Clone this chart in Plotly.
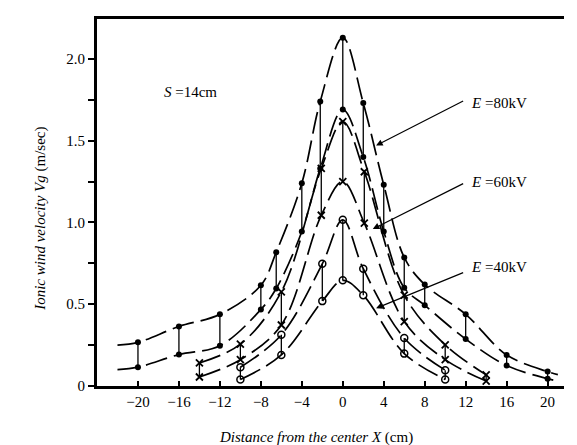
import plotly.graph_objects as go

# ---------------- data ----------------
# E = 80 kV (filled dots): upper / lower measured values
dot_x = [-20, -16, -12, -8, -6.5, -4, -2.2, 0, 2, 4, 6, 8, 12, 16, 20]
dot_hi = [0.267, 0.364, 0.438, 0.616, 0.818, 1.24, 1.74, 2.13, 1.73, 1.23, 0.786, 0.62, 0.438, 0.19, 0.088]
dot_lo = [0.115, 0.192, 0.246, 0.468, 0.596, 0.945, 1.33, 1.69, 1.40, 0.945, 0.60, 0.494, 0.287, 0.125, 0.045]

# E = 60 kV (crosses)
cross_x = [-14, -10, -6, -2.1, 0, 2.1, 6, 10, 14]
cross_hi = [0.141, 0.256, 0.576, 1.33, 1.616, 1.31, 0.555, 0.252, 0.068]
cross_lo = [0.055, 0.161, 0.373, 1.044, 1.25, 0.996, 0.394, 0.161, 0.03]

# E = 40 kV (open circles)
circ_x = [-10, -6, -2, 0, 2, 6, 10]
circ_hi = [0.115, 0.313, 0.747, 1.016, 0.717, 0.293, 0.097]
circ_lo = [0.040, 0.19, 0.519, 0.646, 0.555, 0.198, 0.04]

# fitted curve tails beyond the outermost measurements (x, upper, lower)
dot_tail_left = (-22, 0.25, 0.10)
dot_tail_right = (21, 0.07, 0.03)

x_ticks = [-20, -16, -12, -8, -4, 0, 4, 8, 12, 16, 20]
y_ticks = [0, 0.5, 1.0, 1.5, 2.0]
y_ticktext = ["0", "0.5", "1.0", "1.5", "2.0"]

labels = ["<i>E</i> =80kV", "<i>E</i> =60kV", "<i>E</i> =40kV"]
label_pos = [(12.3, 1.73), (12.3, 1.25), (12.3, 0.73)]
arrow_tail = [(11.9, 1.747), (11.9, 1.242), (11.9, 0.697)]
arrow_head = [(3.25, 1.47), (2.93, 0.96), (3.25, 0.475)]

# ---------------- figure ----------------
SERIF = "Liberation Serif, Times New Roman, serif"
fig = go.Figure()

DASH = "22px,7px"
curve_style = dict(color="black", width=1.7, dash=DASH, shape="spline", smoothing=1.0)

def add_curve(xs, ys):
    fig.add_trace(go.Scatter(x=xs, y=ys, mode="lines", line=curve_style,
                             hoverinfo="skip", showlegend=False))

# dot curves with tails
add_curve([dot_tail_left[0]] + dot_x + [dot_tail_right[0]],
          [dot_tail_left[1]] + dot_hi + [dot_tail_right[1]])
add_curve([dot_tail_left[0]] + dot_x + [dot_tail_right[0]],
          [dot_tail_left[2]] + dot_lo + [dot_tail_right[2]])
add_curve(cross_x, cross_hi)
add_curve(cross_x, cross_lo)
add_curve(circ_x, circ_hi)
add_curve(circ_x, circ_lo)

# vertical connectors between each pair
def connectors(xs, hi, lo):
    vx, vy = [], []
    for x, a, b in zip(xs, hi, lo):
        vx += [x, x, None]
        vy += [a, b, None]
    return vx, vy

for xs, hi, lo in [(dot_x, dot_hi, dot_lo), (cross_x, cross_hi, cross_lo), (circ_x, circ_hi, circ_lo)]:
    vx, vy = connectors(xs, hi, lo)
    fig.add_trace(go.Scatter(x=vx, y=vy, mode="lines", line=dict(color="black", width=1.3),
                             hoverinfo="skip", showlegend=False))

# markers
fig.add_trace(go.Scatter(x=dot_x + dot_x, y=dot_hi + dot_lo, mode="markers",
                         marker=dict(symbol="circle", size=6, color="black"), showlegend=False))
fig.add_trace(go.Scatter(x=cross_x + cross_x, y=cross_hi + cross_lo, mode="markers",
                         marker=dict(symbol="x-thin-open", size=7, color="black",
                                     line=dict(color="black", width=1.8)), showlegend=False))
fig.add_trace(go.Scatter(x=circ_x + circ_x, y=circ_hi + circ_lo, mode="markers",
                         marker=dict(symbol="circle-open", size=7, color="black",
                                     line=dict(color="black", width=1.5)), showlegend=False))

annotations = []
for (tx, ty), (hx, hy) in zip(arrow_tail, arrow_head):
    annotations.append(dict(x=hx, y=hy, ax=tx, ay=ty, xref="x", yref="y", axref="x", ayref="y",
                            text="", showarrow=True, arrowhead=2, arrowsize=1.1, arrowwidth=1.2,
                            arrowcolor="black"))
for txt, (lx, ly) in zip(labels, label_pos):
    annotations.append(dict(x=lx, y=ly, xref="x", yref="y", text=txt, showarrow=False,
                            xanchor="left", yanchor="middle",
                            font=dict(family=SERIF, size=15, color="black")))
annotations.append(dict(x=-14.9, y=1.796, xref="x", yref="y", text="<i>S</i> =14cm",
                        showarrow=False, font=dict(family=SERIF, size=15, color="black")))
annotations.append(dict(x=-0.145, y=0.455, xref="paper", yref="paper", textangle=-90,
                        text="<i>Ionic wind velocity Vg</i> (m/sec)", showarrow=False,
                        font=dict(family=SERIF, size=15, color="black")))
annotations.append(dict(x=0.47, y=-0.14, xref="paper", yref="paper", yanchor="middle",
                        text="<i>Distance from the center X</i> (cm)", showarrow=False,
                        font=dict(family=SERIF, size=15, color="black")))

fig.update_layout(
    width=577, height=445,
    margin=dict(l=89, r=21, t=8, b=67),
    paper_bgcolor="white", plot_bgcolor="white",
    annotations=annotations,
    xaxis=dict(range=[-24, 21.6], tickvals=x_ticks, ticks="inside", ticklen=5, tickwidth=1.5,
               tickcolor="black", showgrid=False, zeroline=False,
               showline=True, linecolor="black", linewidth=3, mirror=True,
               tickfont=dict(family=SERIF, size=15, color="black")),
    yaxis=dict(range=[0, 2.244], tickvals=y_ticks, ticktext=y_ticktext, ticks="outside",
               ticklen=6, tickwidth=1.5, tickcolor="black", showgrid=False, zeroline=False,
               showline=True, linecolor="black", linewidth=3, mirror=False,
               minor=dict(dtick=0.25, ticks="outside", ticklen=6, tickwidth=1.5, tickcolor="black"),
               tickfont=dict(family=SERIF, size=15, color="black")),
)

fig.write_html("out.html")
